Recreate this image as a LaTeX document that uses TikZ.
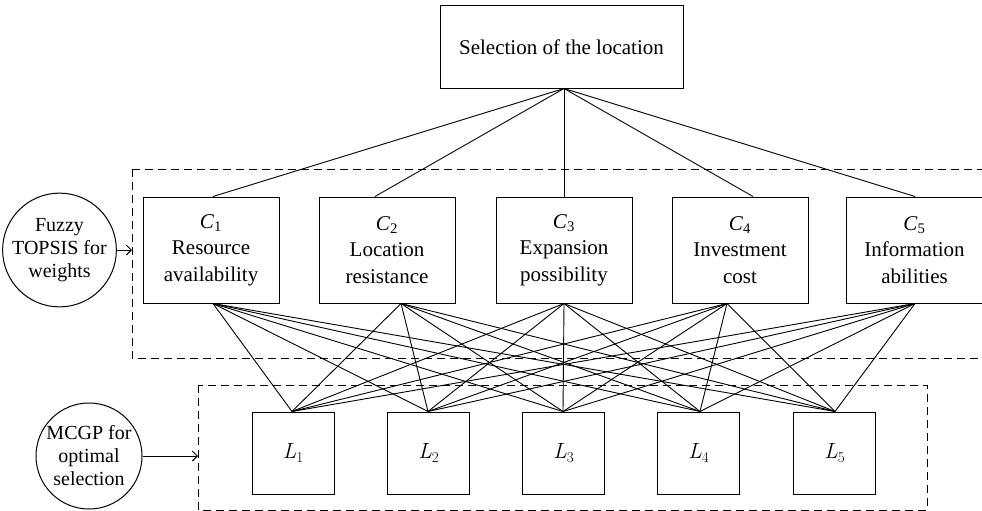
\documentclass[tikz,border=0pt]{standalone}
\usepackage{fontspec}
\setmainfont{Liberation Serif}
\newfontfamily\lmr{Latin Modern Roman}
\newcommand{\Lsub}[1]{{\lmr\itshape L}\raisebox{-0.35ex}{\lmr\fontsize{15}{15}\selectfont #1}}
\usetikzlibrary{arrows.meta}
\begin{document}
\begin{tikzpicture}[x=1pt,y=-1pt, line width=1pt,
  box/.style={draw, inner sep=0pt, align=center, font=\fontsize{21}{26.5}\selectfont},
  cbox/.style={box, minimum width=136pt, minimum height=106pt},
  lbox/.style={box, minimum width=82pt, minimum height=82pt, font=\fontsize{22}{24}\selectfont},
  circ/.style={draw, circle, minimum size=106pt, inner sep=0pt, align=center, font=\fontsize{20}{23}\selectfont},
  grp/.style={draw, dash pattern=on 8pt off 5pt},
  link/.style={draw, line width=0.9pt},
  arr/.style={-{Straight Barb[length=5pt,width=10pt]}, line width=0.9pt}]
\useasboundingbox (0,0) rectangle (982,511);
\clip (0,0) rectangle (982,511);

% groups
\draw[grp] (132,169) rectangle (1000,358);
\draw[grp] (198,385) rectangle (927,510);
\coordinate (g1w) at (132,250);
\coordinate (g2w) at (198,456);

% root
\node[box, minimum width=243pt, minimum height=82pt] (top) at (561.5,47) {Selection of the location};
\path (top.south) ++(2.5,0) coordinate (rt);

% criteria
\node[cbox] (c1) at (211,250) {\textit{C}\textsubscript{1}\\Resource\\availability};
\node[cbox] (c2) at (387,250) {\textit{C}\textsubscript{2}\\Location\\resistance};
\node[cbox] (c3) at (564,250) {\textit{C}\textsubscript{3}\\Expansion\\possibility};
\node[cbox] (c4) at (740,250) {\textit{C}\textsubscript{4}\\Investment\\cost};
\node[cbox] (c5) at (914.5,250) {\textit{C}\textsubscript{5}\\Information\\abilities};

% locations
\node[lbox] (l1) at (293,453) {\Lsub{1}};
\node[lbox] (l2) at (428.5,453) {\Lsub{2}};
\node[lbox] (l3) at (563.5,453) {\Lsub{3}};
\node[lbox] (l4) at (698.5,453) {\Lsub{4}};
\node[lbox] (l5) at (834.5,453) {\Lsub{5}};

% anchor points
\foreach \i/\dt/\db in {1/2/2, 2/-12/14, 3/0/0, 4/13/-13, 5/0.5/0.5} {
  \path (c\i.north) ++(\dt,0) coordinate (c\i t);
  \path (c\i.south) ++(\db,0) coordinate (c\i b);
}
\foreach \j/\d in {1/-1, 2/-0.5, 3/-0.5, 4/1.5, 5/0.5} {
  \path (l\j.north) ++(\d,0) coordinate (l\j t);
}

% connectors
\foreach \i in {1,...,5} {
  \draw[link] (rt) -- (c\i t);
  \foreach \j in {1,...,5} {
    \draw[link] (c\i b) -- (l\j t);
  }
}

% methods
\node[circ] (fz) at (59.5,250) {Fuzzy\\TOPSIS for\\weights};
\node[circ] (mc) at (89,456) {MCGP for\\optimal\\selection};
\draw[arr] (fz.east) -- (g1w);
\draw[arr] (mc.east) -- (g2w);
\end{tikzpicture}
\end{document}
